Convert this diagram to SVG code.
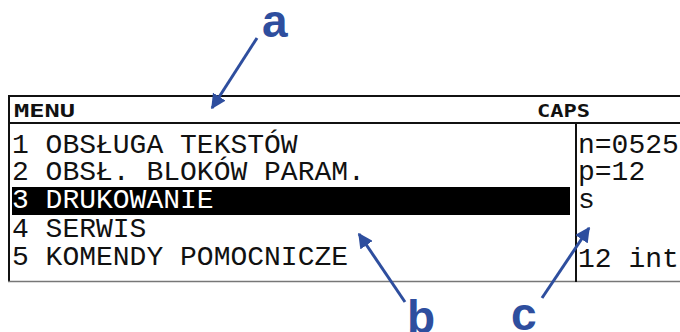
<svg xmlns="http://www.w3.org/2000/svg" width="680" height="332" viewBox="0 0 680 332">
<style>
.lcd{font-family:"Liberation Mono","DejaVu Sans Mono",monospace;font-size:28px;fill:#111}
.hdr{font-family:"DejaVu Sans Mono","Liberation Mono",monospace;font-size:17px;font-weight:bold;fill:#111}
.lbl{font-family:"Liberation Sans",Arial,sans-serif;font-weight:bold;font-size:46px;fill:#2E4E9E}
.arr{stroke:#2E4E9E;stroke-width:3;fill:none}
</style>
<defs>
<marker id="ah" viewBox="0 0 10 10" refX="9" refY="5" markerWidth="5" markerHeight="5" orient="auto" markerUnits="strokeWidth">
<path d="M0,0 L10,5 L0,10 z" fill="#2E4E9E"/>
</marker>
</defs>
<rect width="680" height="332" fill="#fff"/>
<g id="screen">
<line x1="8" y1="96" x2="680" y2="96" stroke="#111" stroke-width="2"/>
<line x1="8" y1="123" x2="680" y2="123" stroke="#111" stroke-width="2"/>
<line x1="9" y1="95" x2="9" y2="282" stroke="#111" stroke-width="2"/>
<line x1="8" y1="281.5" x2="680" y2="281.5" stroke="#777" stroke-width="1.5"/>
<line x1="576" y1="123" x2="576" y2="282" stroke="#111" stroke-width="2"/>
</g>
<g id="header">
<text class="hdr" x="14" y="117" textLength="61" lengthAdjust="spacingAndGlyphs">MENU</text>
<text class="hdr" x="537" y="117" textLength="53" lengthAdjust="spacingAndGlyphs">CAPS</text>
</g>
<g id="menu">
<text class="lcd" x="12" y="153">1 OBSŁUGA TEKSTÓW</text>
<text class="lcd" x="12" y="180">2 OBSŁ. BLOKÓW PARAM.</text>
<rect x="12" y="187" width="558" height="28" fill="#000"/>
<text class="lcd" x="12" y="208" fill="#fff" style="fill:#fff">3 DRUKOWANIE</text>
<text class="lcd" x="12" y="237">4 SERWIS</text>
<text class="lcd" x="12" y="265">5 KOMENDY POMOCNICZE</text>
</g>
<g id="status">
<text class="lcd" x="578" y="153">n=0525</text>
<text class="lcd" x="578" y="180">p=12</text>
<text class="lcd" x="578" y="208">s</text>
<text class="lcd" x="578" y="267">12 int</text>
</g>
<g id="connectors">
<line class="arr" x1="257" y1="38" x2="212" y2="108" marker-end="url(#ah)"/>
<line class="arr" x1="405" y1="302" x2="359" y2="234" marker-end="url(#ah)"/>
<line class="arr" x1="542" y1="298" x2="589" y2="228" marker-end="url(#ah)"/>
</g>
<g id="labels">
<text class="lbl" x="262" y="37">a</text>
<text class="lbl" x="407" y="333">b</text>
<text class="lbl" x="511" y="330">c</text>
</g>
</svg>
